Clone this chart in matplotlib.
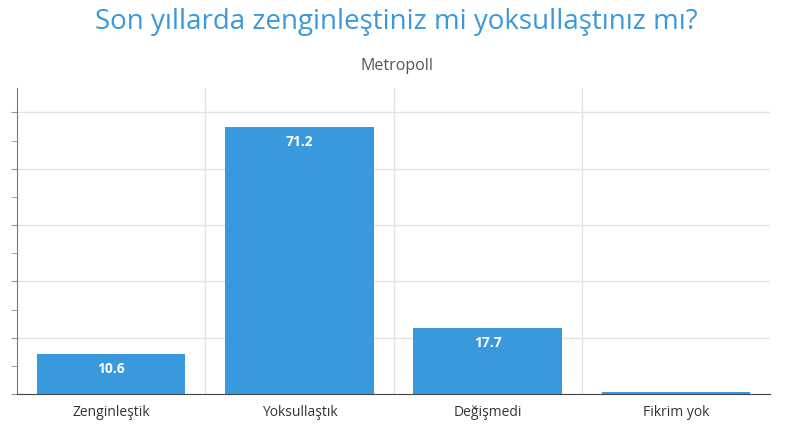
import matplotlib.pyplot as plt
import numpy as np

plt.rcParams['font.family'] = ['Open Sans', 'DejaVu Sans']

categories = ["Zenginleştik", "Yoksullaştık", "Değişmedi", "Fikrim yok"]
values = [10.6, 71.2, 17.7, 0.5]
labels = ["10.6", "71.2", "17.7", ""]

BAR = "#3a99dc"

fig = plt.figure(figsize=(7.93, 4.36), dpi=100)
ax = fig.add_axes([17 / 793, 1 - 394 / 436, (770 - 17) / 793, (394 - 88) / 436])

x = np.arange(len(categories))
ax.bar(x, values, width=0.79, color=BAR, zorder=2)
for xi, v, lab in zip(x, values, labels):
    if lab:
        ax.text(xi, v - 2.2, lab, ha="center", va="top", color="white",
                fontsize=10, fontweight="bold", zorder=3)

ax.set_xlim(-0.5, 3.5)
ax.set_ylim(0, 81.5)
ax.set_yticks(np.arange(0, 76, 15))
ax.set_yticks(np.arange(0, 81, 7.5), minor=True)
ax.set_yticklabels([])
ax.tick_params(axis="y", which="both", length=4, color="#999999", direction="out")
ax.set_xticks(x)
ax.set_xticklabels(categories, fontsize=10, color="#333333")
ax.tick_params(axis="x", length=0, pad=8)
for b in [0.5, 1.5, 2.5]:
    ax.axvline(b, color="#e3e3e3", linewidth=1, zorder=0)
ax.grid(axis="y", which="major", color="#e3e3e3", linewidth=1, zorder=0)
for s in ["top", "right"]:
    ax.spines[s].set_visible(False)
ax.spines["left"].set_color("#777777")
ax.spines["bottom"].set_color("#444444")

fig.text(0.5, 1 - 22 / 436, "Son yıllarda zenginleştiniz mi yoksullaştınız mı?",
         ha="center", va="center", fontsize=20, color="#3a98db")
fig.text(0.5, 1 - 66 / 436, "Metropoll", ha="center", va="center",
         fontsize=11.5, color="#555555")

fig.savefig("out.png", dpi=100)
